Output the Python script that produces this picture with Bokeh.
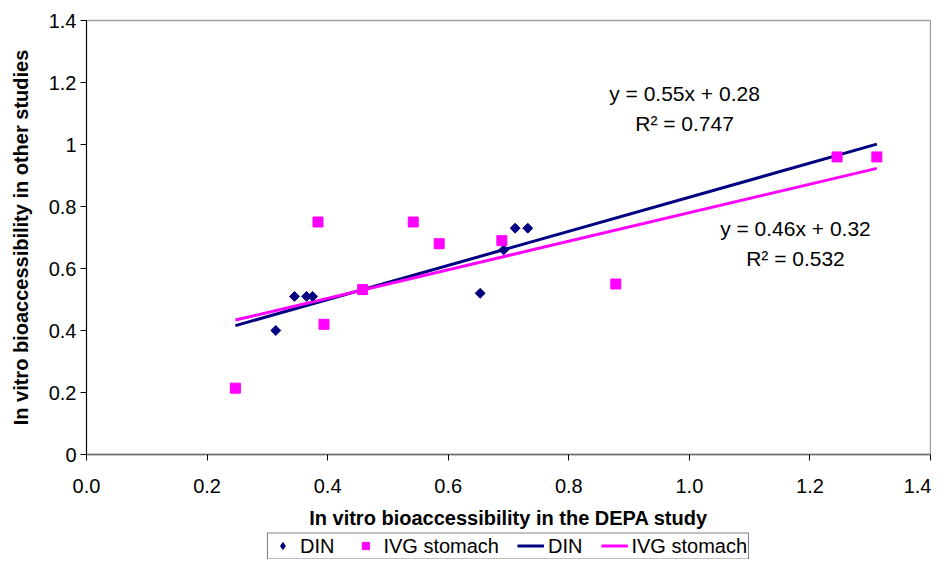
import numpy as np
from bokeh.plotting import figure
from bokeh.layouts import column
from bokeh.models import Label, Legend, LegendItem, FixedTicker, Range1d
from bokeh.embed import file_html
from bokeh.resources import INLINE

# ---- data ----
din_x = [0.314, 0.345, 0.365, 0.375, 0.653, 0.692, 0.711, 0.732]
din_y = [0.40, 0.51, 0.51, 0.51, 0.52, 0.66, 0.73, 0.73]

ivg_x = [0.247, 0.384, 0.394, 0.458, 0.542, 0.585, 0.689, 0.878, 1.245, 1.311]
ivg_y = [0.214, 0.75, 0.42, 0.532, 0.75, 0.68, 0.69, 0.55, 0.96, 0.96]

series_names = ["DIN", "IVG stomach"]
trend_slope = [0.55, 0.46]
trend_intercept = [0.28, 0.32]
trend_r2 = ["0.747", "0.532"]
trend_x = [0.247, 1.311]

x_ticks = [0.0, 0.2, 0.4, 0.6, 0.8, 1.0, 1.2, 1.4]
x_tick_labels = ["0.0", "0.2", "0.4", "0.6", "0.8", "1.0", "1.2", "1.4"]
y_ticks = [0.0, 0.2, 0.4, 0.6, 0.8, 1.0, 1.2, 1.4]
y_tick_labels = ["0", "0.2", "0.4", "0.6", "0.8", "1", "1.2", "1.4"]

x_title = "In vitro bioaccessibility in the DEPA study"
y_title = "In vitro bioaccessibility in other studies"

FONT = "Liberation Sans"
NAVY = "#000080"
MAGENTA = "#FF00FF"

p = figure(width=931, height=532, output_backend="svg", toolbar_location=None,
           x_range=Range1d(0, 1.4), y_range=Range1d(0, 1.4),
           min_border_left=86, min_border_right=1, min_border_top=20,
           min_border_bottom=78)
p.grid.visible = False
p.outline_line_color = "#A0A0A0"
p.outline_line_width = 1.5
p.background_fill_color = "white"
p.border_fill_color = "white"

# axes
for ax in (p.xaxis[0], p.yaxis[0]):
    ax.minor_tick_line_color = None
    ax.major_tick_in = 0
    ax.major_tick_out = 6
    ax.major_label_text_font = FONT
    ax.major_label_text_font_size = "20px"
    ax.major_label_text_color = "black"
    ax.axis_label_text_font = FONT
    ax.axis_label_text_font_size = "20px"
    ax.axis_label_text_font_style = "bold"
    ax.axis_label_text_color = "black"
    ax.major_tick_line_color = "black"

p.xaxis.ticker = FixedTicker(ticks=x_ticks)
p.xaxis.major_label_overrides = {t: l for t, l in zip(x_ticks, x_tick_labels)}
p.xaxis.axis_label = x_title
p.xaxis.axis_line_color = "#707070"
p.xaxis.axis_line_width = 1.5
p.xaxis.major_label_standoff = 18
p.xaxis.axis_label_standoff = 11

p.yaxis.ticker = FixedTicker(ticks=y_ticks)
p.yaxis.major_label_overrides = {t: l for t, l in zip(y_ticks, y_tick_labels)}
p.yaxis.axis_label = y_title
p.yaxis.axis_line_color = "black"
p.yaxis.major_label_standoff = 4
p.yaxis.axis_label_standoff = 14

# trend lines
tx = np.array(trend_x)
din_fit = trend_slope[0] * tx + trend_intercept[0]
ivg_fit = trend_slope[1] * tx + trend_intercept[1]
r_din_line = p.line(tx, din_fit, line_color=NAVY, line_width=3)
r_ivg_line = p.line(tx, ivg_fit, line_color=MAGENTA, line_width=3)

# points
r_din = p.scatter(din_x, din_y, marker="square", angle=np.pi / 4, size=7,
                  fill_color=NAVY, line_color=NAVY)
r_ivg = p.scatter(ivg_x, ivg_y, marker="square", size=10,
                  fill_color=MAGENTA, line_color=MAGENTA)

# trendline equation labels
eq_pos = [((0.992, 1.165), (0.992, 1.068)), ((1.176, 0.729), (1.176, 0.632))]
for i in range(2):
    (ex, ey), (rx, ry) = eq_pos[i]
    p.add_layout(Label(x=ex, y=ey, text=f"y = {trend_slope[i]:.2f}x + {trend_intercept[i]:.2f}",
                       text_align="center", text_baseline="middle",
                       text_font=FONT, text_font_size="21px", text_color="black"))
    p.add_layout(Label(x=rx, y=ry, text=f"R\u00b2 = {trend_r2[i]}",
                       text_align="center", text_baseline="middle",
                       text_font=FONT, text_font_size="21px", text_color="black"))

# ---- legend strip below the chart (hidden copies of the series feed the legend) ----
pl = figure(width=931, height=27, output_backend="svg", toolbar_location=None,
            x_range=Range1d(0, 1.4), y_range=Range1d(0, 1.4),
            x_axis_location=None, y_axis_location=None,
            min_border_left=86, min_border_right=1, min_border_top=0,
            min_border_bottom=0)
pl.grid.visible = False
pl.outline_line_color = None
pl.border_fill_color = "white"

lg_din = pl.scatter(din_x, din_y, marker="diamond", size=10,
                    fill_color=NAVY, line_color=NAVY, visible=False)
lg_ivg = pl.scatter(ivg_x, ivg_y, marker="square", size=9,
                    fill_color=MAGENTA, line_color=MAGENTA, visible=False)
lg_din_line = pl.line(tx, din_fit, line_color=NAVY, line_width=3, visible=False)
lg_ivg_line = pl.line(tx, ivg_fit, line_color=MAGENTA, line_width=3, visible=False)

legend = Legend(items=[
    LegendItem(label=series_names[0], renderers=[lg_din]),
    LegendItem(label=series_names[1], renderers=[lg_ivg]),
    LegendItem(label=series_names[0], renderers=[lg_din_line]),
    LegendItem(label=series_names[1], renderers=[lg_ivg_line]),
], orientation="horizontal", location="center",
    border_line_color="black", border_line_width=1,
    background_fill_color="white", background_fill_alpha=1.0,
    inactive_fill_alpha=0.0,
    label_text_font=FONT, label_text_font_size="20px", label_text_color="black",
    glyph_width=27, glyph_height=18, label_standoff=4, spacing=18,
    padding=1, margin=0, label_height=20)
pl.add_layout(legend, "center")

layout = column(p, pl, spacing=0)
open("out.html", "w").write(file_html(layout, INLINE))
